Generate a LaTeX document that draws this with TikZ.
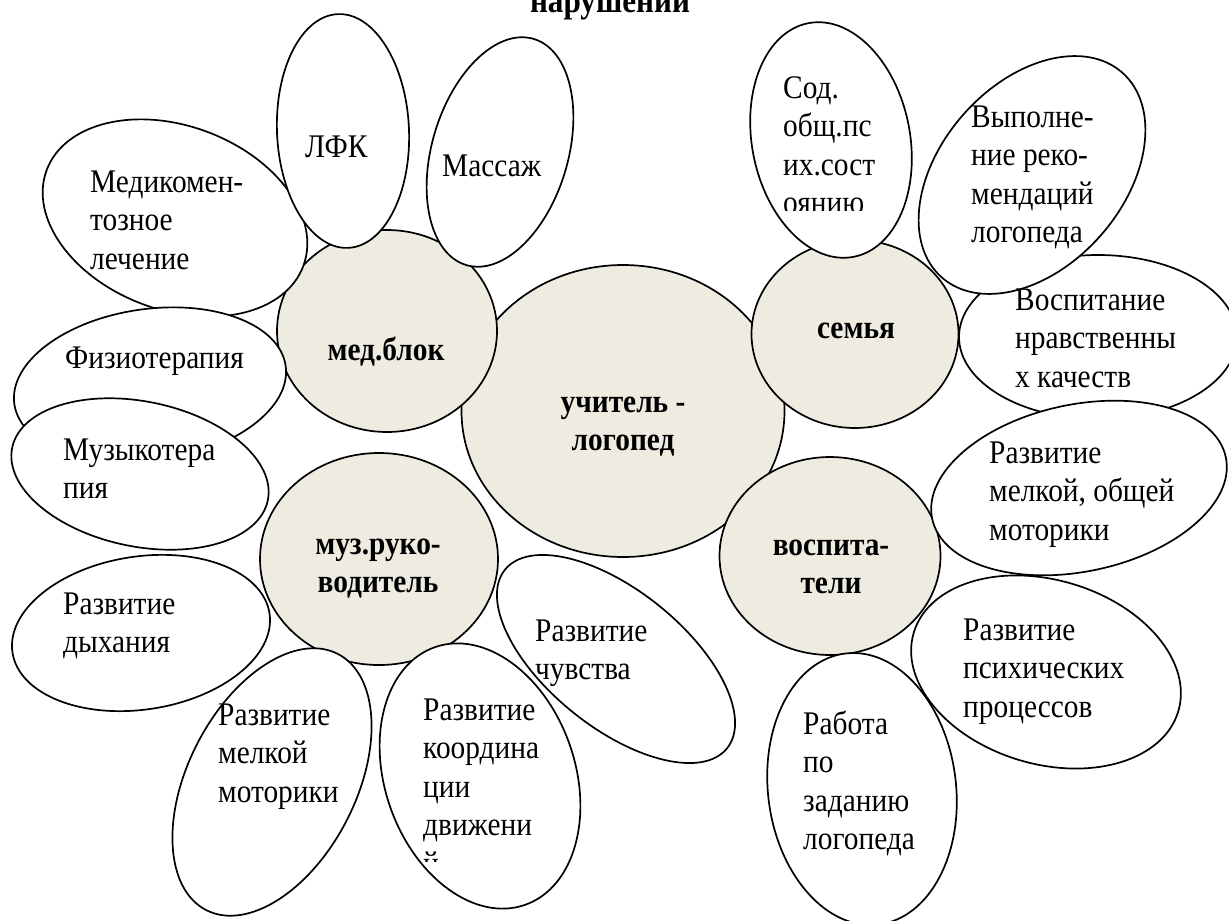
\documentclass[tikz,border=0pt]{standalone}
\usepackage{fontspec}
\setmainfont{Liberation Serif}[FakeStretch=0.89]
\usetikzlibrary{shapes.geometric}
\definecolor{coregray}{HTML}{EEECE1}
\newcommand\lefttext[1]{\parbox[t]{400pt}{\raggedright #1}}
\newcommand\midtext[1]{\parbox[t]{300pt}{\centering #1}}
\tikzset{
  core/.style={draw=black, line width=1.7pt, fill=coregray, ellipse, inner sep=0pt},
  petal/.style={draw=black, line width=1.7pt, fill=white, ellipse, inner sep=0pt},
  lbl/.style={inner sep=0pt, anchor=base west, font=\fontsize{33}{38.5}\selectfont},
  blbl/.style={inner sep=0pt, anchor=base, font=\fontsize{33}{38}\selectfont\bfseries},
}
\begin{document}
\begin{tikzpicture}[x=1pt,y=-1pt]
\useasboundingbox (0,0) rectangle (1229,921);
% title (cut off at top)
\node[inner sep=0pt, anchor=base, font=\fontsize{35}{40}\selectfont\bfseries] (title) at (610,12) {нарушений};
% centre
\node[core, minimum width=323pt, minimum height=292pt] (ul) at (623,411) {};
\node[core, minimum width=220pt, minimum height=202pt] (med) at (387,331) {};
\node[core, minimum width=207pt, minimum height=188pt] (fam) at (855,334) {};
\node[core, minimum width=238pt, minimum height=212pt] (muz) at (379,559) {};
\node[core, minimum width=221pt, minimum height=198pt] (vos) at (830,556) {};
% petals
\node[petal, minimum width=274pt, minimum height=184pt, rotate=-20.5] (p1) at (175,218) {};
\node[petal, minimum width=132pt, minimum height=234pt, rotate=2.5] (p2) at (343,131) {};
\node[petal, minimum width=136pt, minimum height=236pt, rotate=-16.6] (p3) at (500,152) {};
\node[petal, minimum width=274pt, minimum height=152pt, rotate=8] (p4) at (150,385) {};
\node[petal, minimum width=261pt, minimum height=145pt, rotate=-11.6] (p5) at (140,474) {};
\node[petal, minimum width=260pt, minimum height=153pt, rotate=8.7] (p6) at (141,633) {};
\node[petal, minimum width=168pt, minimum height=288pt, rotate=-27.2] (p7) at (272,782) {};
\node[petal, minimum width=190pt, minimum height=273pt, rotate=19.3] (p8) at (480,776) {};
\node[petal, minimum width=285pt, minimum height=137pt, rotate=-38.8] (p9) at (616,659) {};
\node[petal, minimum width=188pt, minimum height=273pt, rotate=7] (p10) at (862,789) {};
\node[petal, minimum width=276pt, minimum height=184pt, rotate=-16.5] (p11) at (1046,672) {};
\node[petal, minimum width=278pt, minimum height=164pt] (p12) at (1098,337) {};
\node[petal, minimum width=300pt, minimum height=167pt, rotate=11.8] (p13) at (1079,488) {};
\node[petal, minimum width=183pt, minimum height=273pt, rotate=-41.4] (p14) at (1032,175) {};
\node[petal, minimum width=158pt, minimum height=238pt, rotate=11] (p15) at (831,140) {};
% core labels
\node[blbl] (tul) at (623,412) {\midtext{учитель -\\логопед}};
\node[blbl] (tmed) at (386,360) {\midtext{мед.блок}};
\node[blbl] (tfam) at (856,338) {\midtext{семья}};
\node[blbl] (tmuz) at (378,554) {\midtext{муз.руко-\\водитель}};
\node[blbl] (tvos) at (831,555) {\midtext{воспита-\\тели}};
% petal labels
\node[lbl] (t1) at (90,192) {\lefttext{Медикомен-\\тозное\\лечение}};
\node[lbl] (t2) at (305,157) {\lefttext{ЛФК}};
\node[lbl] (t3) at (442,176) {\lefttext{Массаж}};
\node[lbl] (t4) at (65,368) {\lefttext{Физиотерапия}};
\node[lbl] (t5) at (63,460) {\lefttext{Музыкотера\\пия}};
\node[lbl] (t6) at (63,614) {\lefttext{Развитие\\дыхания}};
\node[lbl] (t7) at (218,725) {\lefttext{Развитие\\мелкой\\моторики}};
\begin{scope}
\clip (380,600) rectangle (600,861);
\node[lbl] (t8) at (423,720) {\lefttext{Развитие\\координа\\ции\\движени\\й}};
\end{scope}
\node[lbl] (t9) at (535,641) {\lefttext{Развитие\\чувства}};
\node[lbl] (t10) at (803,734) {\lefttext{Работа\\по\\заданию\\логопеда}};
\node[lbl] (t11) at (963,640) {\lefttext{Развитие\\психических\\процессов}};
\node[lbl] (t12) at (1015,310) {\lefttext{Воспитание\\нравственны\\х качеств}};
\node[lbl] (t13) at (989,463) {\lefttext{Развитие\\мелкой, общей\\моторики}};
\node[lbl] (t14) at (971,127) {\lefttext{Выполне-\\ние реко-\\мендаций\\логопеда}};
\begin{scope}
\clip (760,20) rectangle (920,210);
\node[lbl] (t15) at (783,98) {\lefttext{Сод.\\общ.пс\\их.сост\\оянию}};
\end{scope}
\end{tikzpicture}
\end{document}
